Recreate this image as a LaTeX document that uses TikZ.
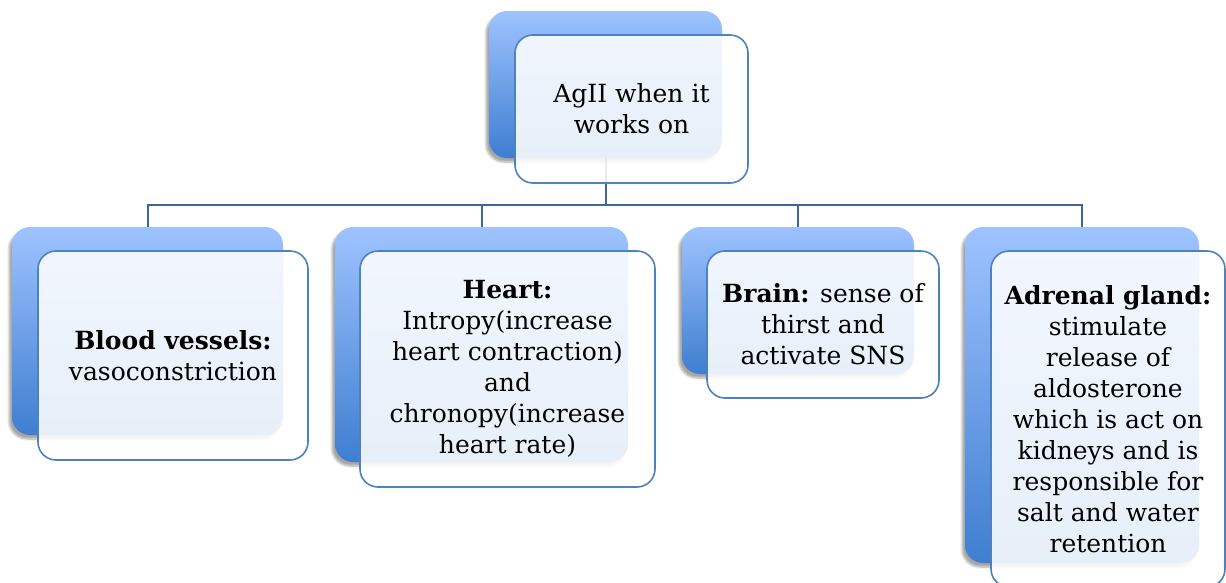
\documentclass[tikz,border=0pt]{standalone}
\usepackage{fontspec}
\setmainfont{DejaVu Serif}
\usetikzlibrary{shadows.blur,backgrounds}

\definecolor{backtop}{HTML}{9EC3FF}
\definecolor{backbot}{HTML}{3F7ED0}
\definecolor{frameblue}{HTML}{4F81BD}
\definecolor{linkblue}{HTML}{3F6698}

\tikzset{
  back/.style={anchor=north west, inner sep=0pt, outer sep=0pt,
    rounded corners=18pt, top color=backtop, bottom color=backbot,
    blur shadow={shadow xshift=-3pt, shadow yshift=-4pt,
      shadow blur steps=6, shadow opacity=35}},
  front/.style={anchor=north west, inner sep=0pt, outer sep=0pt,
    rounded corners=18pt, draw=frameblue, line width=1.6pt,
    fill=white, fill opacity=0.88, text opacity=1, align=center,
    font=\fontsize{25}{31}\selectfont},
  link/.style={draw=linkblue, line width=2pt}
}

\begin{document}
\begin{tikzpicture}[x=1pt, y=-1pt]
\useasboundingbox (0,0) rectangle (1226,582);

% rear gradient cards
\node[back, minimum width=233pt, minimum height=147pt] (tb) at (489,11) {};
\node[back, minimum width=271pt, minimum height=208pt] (b1) at (12,227) {};
\node[back, minimum width=293pt, minimum height=235pt] (b2) at (335,227) {};
\node[back, minimum width=232pt, minimum height=147pt] (b3) at (682,227) {};
\node[back, minimum width=234pt, minimum height=336pt] (b4) at (965,227) {};

% hierarchy connectors
\coordinate (bus) at (0,205);
\begin{pgfonlayer}{background}
\draw[link] (tb.south) -- (tb.south |- bus) -| (b1.north);
\draw[link] (tb.south) -- (tb.south |- bus) -| (b2.north);
\draw[link] (tb.south) -- (tb.south |- bus) -| (b3.north);
\draw[link] (tb.south) -- (tb.south |- bus) -| (b4.north);
\end{pgfonlayer}

% front text cards
\node[front, minimum width=233pt, minimum height=148pt] (tf) at (515,35)
  {AgII when it\\works on};
\node[front, minimum width=270pt, minimum height=209pt] (f1) at (38,251)
  {\textbf{Blood vessels:}\\vasoconstriction};
\node[front, minimum width=295pt, minimum height=236pt] (f2) at (360,251)
  {\textbf{Heart:}\\Intropy(increase\\heart contraction)\\and\\chronopy(increase\\heart rate)};
\node[front, minimum width=232pt, minimum height=147pt] (f3) at (707,251)
  {\textbf{Brain:} sense of\\thirst and\\activate SNS};
\node[front, minimum width=234pt, minimum height=336pt] (f4) at (991,251)
  {\textbf{Adrenal gland:}\\stimulate\\release of\\aldosterone\\which is act on\\kidneys and is\\responsible for\\salt and water\\retention};
\end{tikzpicture}
\end{document}
